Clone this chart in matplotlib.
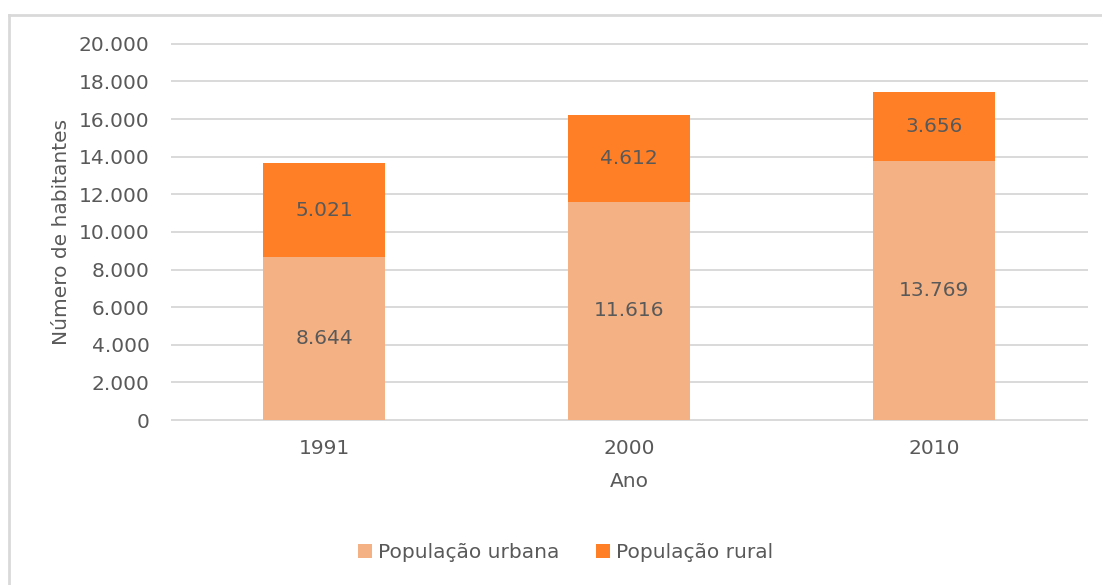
import matplotlib.pyplot as plt
import numpy as np
from matplotlib.lines import Line2D

anos = ['1991', '2000', '2010']
urbana = [8644, 11616, 13769]
rural = [5021, 4612, 3656]
yticks = list(range(0, 20001, 2000))

c_urb = '#F4B183'
c_rur = '#FF7F27'
txt = '#595959'
fs = 14.5

def fmt(v):
    return f'{v:,}'.replace(',', '.')

fig = plt.figure(figsize=(11.02, 5.85), dpi=100)
ax = fig.add_axes([0.156, 0.282, 0.830, 0.643])

x = np.arange(len(anos))
ax.bar(x, urbana, width=0.4, color=c_urb, label='População urbana', zorder=3)
ax.bar(x, rural, width=0.4, bottom=urbana, color=c_rur, label='População rural', zorder=3)

for i in range(len(anos)):
    ax.text(x[i], urbana[i] / 2, fmt(urbana[i]), ha='center', va='center',
            fontsize=fs, color=txt, zorder=4)
    ax.text(x[i], urbana[i] + rural[i] / 2, fmt(rural[i]), ha='center', va='center',
            fontsize=fs, color=txt, zorder=4)

ax.set_xlim(-0.5, 2.5)
ax.set_ylim(0, 20000)
ax.set_yticks(yticks)
ax.set_yticklabels([fmt(v) for v in yticks])
ax.set_xticks(x)
ax.set_xticklabels(anos)
ax.tick_params(length=0, labelsize=fs, colors=txt)
ax.tick_params(axis='x', pad=14)
ax.tick_params(axis='y', pad=16)
ax.yaxis.grid(True, color='#D9D9D9', linewidth=1.4, zorder=0)
for gl in ax.get_ygridlines():
    gl.set_clip_on(False)
for s in ax.spines.values():
    s.set_visible(False)

ax.set_xlabel('Ano', fontsize=fs, color=txt, labelpad=10)
ax.set_ylabel('Número de habitantes', fontsize=fs, color=txt, labelpad=6)

ax.legend(loc='center', bbox_to_anchor=(0.513, 0.055), bbox_transform=fig.transFigure,
          ncol=2, frameon=False, fontsize=fs, labelcolor=txt,
          handlelength=0.7, handleheight=0.7, handletextpad=0.3, columnspacing=1.8)

# moldura (apenas topo e esquerda visíveis)
fig.add_artist(Line2D([8.5 / 1102, 1.0], [1 - 14.5 / 585, 1 - 14.5 / 585],
                      transform=fig.transFigure, color='#D9D9D9', linewidth=2))
fig.add_artist(Line2D([8.5 / 1102, 8.5 / 1102], [0, 1 - 14.5 / 585],
                      transform=fig.transFigure, color='#D9D9D9', linewidth=2))

fig.savefig('out.png', dpi=100, facecolor='white')
